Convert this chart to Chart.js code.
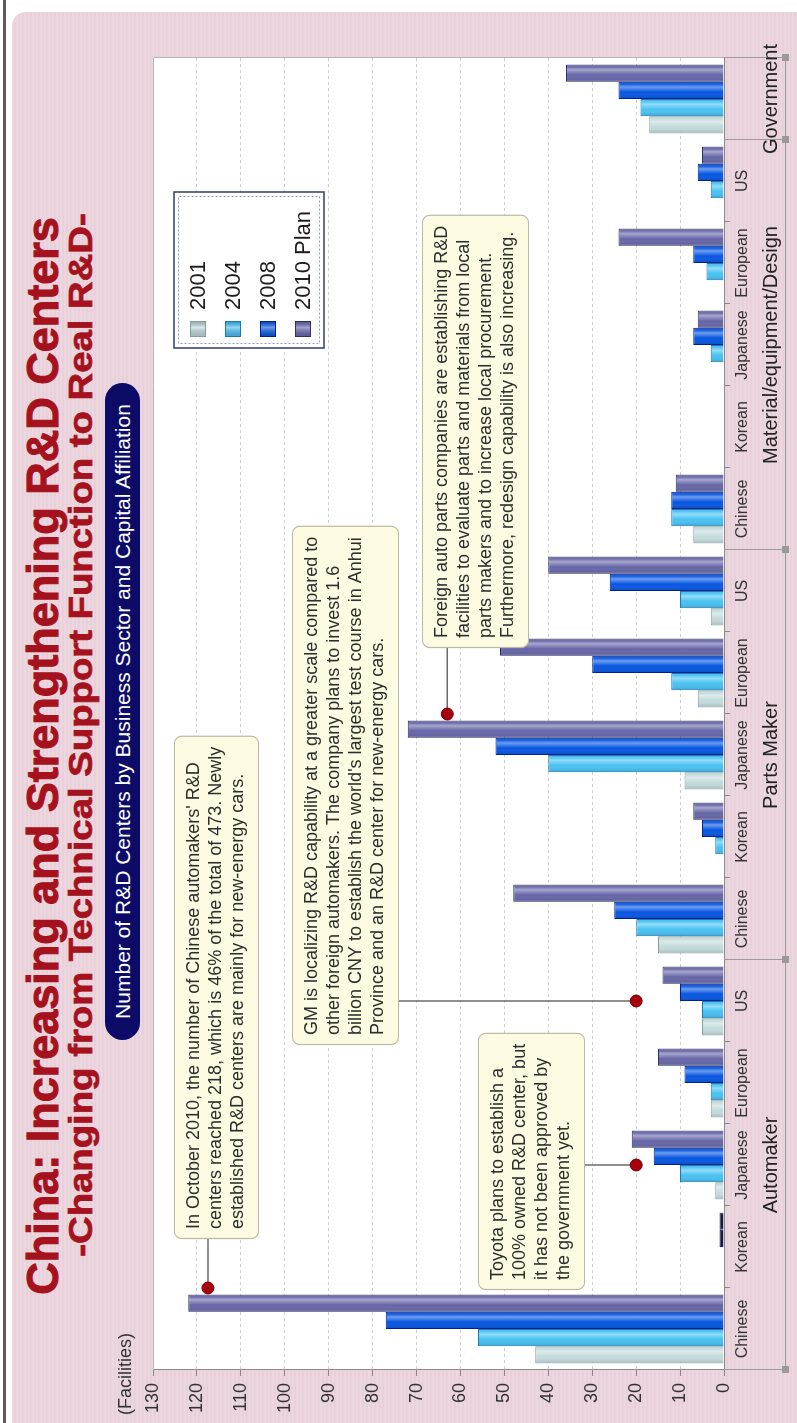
<!DOCTYPE html>
<html>
<head>
<meta charset="utf-8">
<title>China: Increasing and Strengthening R&amp;D Centers</title>
<script src="https://cdn.jsdelivr.net/npm/chart.js@4.4.1/dist/chart.umd.min.js"></script>
<style>
  html, body { margin:0; padding:0; width:797px; height:1423px; overflow:hidden; background:#fff; }
  /* the whole sheet is laid out landscape and turned a quarter turn */
  #stage { position:absolute; left:0; top:0; width:1423px; height:797px;
           transform-origin:0 0; transform:translate(0,1423px) rotate(-90deg);
           font-family:"Liberation Sans", Arial, Helvetica, sans-serif; }
  #rule { position:absolute; left:0; top:3px; width:1423px; height:3px; background:#5c5c5c; }
  #panel { position:absolute; left:0; top:12px; width:1411px; height:785px;
           border-top-right-radius:14px;
           background:repeating-linear-gradient(to bottom, #ecd7df 0px, #ecd7df 2px, #e8d1da 2px, #e8d1da 4px); }
  #chart { position:absolute; left:0; top:0; }
  .title { position:absolute; white-space:nowrap; color:#a5111d; font-weight:bold; line-height:1;
           -webkit-text-stroke:1.1px #a5111d; }
  #t1 { left:667px; top:20px; font-size:45px; transform:translateX(-50%); }
  #t2 { left:688px; top:64px; font-size:33px; transform:translateX(-50%) scaleX(1.16);
        -webkit-text-stroke:0.7px #a5111d; }
  #pill { position:absolute; left:383px; top:105px; width:657px; height:35px; border-radius:18px;
          background:#0c0c68; color:#fff; font-size:21px; line-height:35px; text-align:center; white-space:nowrap; }
</style>
</head>
<body>
<div id="stage">
  <div id="rule"></div>
  <div id="panel"></div>
  <div class="title" id="t1">China: Increasing and Strengthening R&amp;D Centers</div>
  <div class="title" id="t2">-Changing from Technical Support Function to Real R&amp;D-</div>
  <div id="pill">Number of R&amp;D Centers by Business Sector and Capital Affiliation</div>
  <canvas id="chart" width="1423" height="797"></canvas>
</div>
<script>
// ---- data ----
const categories = ['Chinese','Korean','Japanese','European','US',
                    'Chinese','Korean','Japanese','European','US',
                    'Chinese','Korean','Japanese','European','US',
                    ''];
const groupNames = ['Automaker','Parts Maker','Material/equipment/Design','Government'];
const groupSizes = [5, 5, 5, 1];
const seriesNames = ['2001', '2004', '2008', '2010 Plan'];
const v2001 = [43, 0,  2, 3,  5,  15, 0,  9,  6,  3,   7, 0, 0, 0, 0,  17];
const v2004 = [56, 0, 10, 3,  5,  20, 2, 40, 12, 10,  12, 0, 3, 4, 3,  19];
const v2008 = [77, 1, 16, 9, 10,  25, 5, 52, 30, 26,  12, 0, 7, 7, 6,  24];
const v2010 = [122, 1, 21, 15, 14, 48, 7, 72, 51, 40, 11, 0, 6, 24, 5, 36];
const yMin = 0, yMax = 130, yStep = 10;
const unitLabel = '(Facilities)';

// callout texts and the point each one refers to (category position, value)
const noteChinese = ["In October 2010, the number of Chinese automakers' R&D",
                     "centers reached 218, which is 46% of the total of 473. Newly",
                     "established R&D centers are mainly for new-energy cars."];
const noteToyota  = ["Toyota plans to establish a",
                     "100% owned R&D center, but",
                     "it has not been approved by",
                     "the government yet."];
const noteGM      = ["GM is localizing R&D capability at a greater scale compared to",
                     "other foreign automakers. The company plans to invest 1.6",
                     "billion CNY to establish the world's largest test course in Anhui",
                     "Province and an R&D center for new-energy cars."];
const noteParts   = ["Foreign auto parts companies are establishing R&D",
                     "facilities to evaluate parts and materials from local",
                     "parts makers and to increase local procurement.",
                     "Furthermore, redesign capability is also increasing."];
const noteTargets = [[0.5, 117.5], [2, 20], [4, 20], [7.5, 63]];

// ---- styling ----
const FONT = '"Liberation Sans", Arial, Helvetica, sans-serif';
const seriesLook = [
  { body:'#c4dbdb', line:'#809f9f' },
  { body:'#48c2f2', line:'#1b79b6' },
  { body:'#0656e2', line:'#00228e' },
  { body:'#6666a8', line:'#30306a' }
];
const notes = [
  { lines: noteChinese, left: 184, top: 174, leader: 'left' },
  { lines: noteToyota,  left: 133, top: 478, leader: 'bottom' },
  { lines: noteGM,      left: 378, top: 292, leader: 'bottom' },
  { lines: noteParts,   left: 775, top: 422, leader: 'left' }
];

function roundRect(c, x, y, w, h, r) {
  c.beginPath();
  c.moveTo(x + r, y);
  c.arcTo(x + w, y, x + w, y + h, r);
  c.arcTo(x + w, y + h, x, y + h, r);
  c.arcTo(x, y + h, x, y, r);
  c.arcTo(x, y, x + w, y, r);
  c.closePath();
}

const decor = {
  id: 'decor',
  beforeDraw(chart) {
    const a = chart.chartArea, c = chart.ctx;
    c.save();
    c.fillStyle = '#ffffff';
    c.fillRect(a.left, a.top, a.right - a.left, a.bottom - a.top);
    c.restore();
  },
  afterDatasetsDraw(chart) {
    // cylinder shading across every bar
    const c = chart.ctx;
    c.save();
    chart.data.datasets.forEach((ds, i) => {
      chart.getDatasetMeta(i).data.forEach((el, j) => {
        if (!ds.data[j]) return;
        const l = el.x - el.width / 2, r = el.x + el.width / 2;
        const t = Math.min(el.y, el.base), b = Math.max(el.y, el.base);
        if (b - t < 6) return;
        const g = c.createLinearGradient(l, 0, r, 0);
        g.addColorStop(0, 'rgba(0,0,40,0.18)');
        g.addColorStop(0.4, 'rgba(255,255,255,0)');
        g.addColorStop(0.7, 'rgba(255,255,255,0.42)');
        g.addColorStop(0.86, 'rgba(255,255,255,0.05)');
        g.addColorStop(1, 'rgba(0,0,40,0.22)');
        c.fillStyle = g;
        c.fillRect(l + 1, t + 1, r - l - 2, b - t - 1);
      });
    });
    c.restore();
  },
  afterDraw(chart) {
    const c = chart.ctx, a = chart.chartArea;
    const xs = chart.scales.x, ys = chart.scales.y;
    const half = (xs.getPixelForValue(1) - xs.getPixelForValue(0)) / 2;
    c.save();

    // plot frame: top and right edges
    c.strokeStyle = '#b5b5b5'; c.lineWidth = 1;
    c.beginPath();
    c.moveTo(a.left, a.top + 0.5); c.lineTo(a.right + 0.5, a.top + 0.5); c.lineTo(a.right + 0.5, a.bottom);
    c.stroke();

    // value-axis unit
    c.fillStyle = '#333'; c.font = '18px ' + FONT; c.textBaseline = 'alphabetic'; c.textAlign = 'left';
    c.fillText(unitLabel, 8, 131);

    // sector brackets under the category labels
    const frameY = 785.5;
    c.strokeStyle = '#9a9a9a'; c.lineWidth = 1;
    c.beginPath();
    c.moveTo(xs.getPixelForValue(0) - half, frameY);
    c.lineTo(xs.getPixelForValue(categories.length - 1) + half, frameY);
    c.stroke();
    let start = 0;
    const edges = [0];
    groupSizes.forEach(n => { start += n; edges.push(start); });
    edges.forEach(k => {
      const x = Math.round(xs.getPixelForValue(k) - half) + 0.5;
      c.beginPath(); c.moveTo(x, a.bottom); c.lineTo(x, frameY); c.stroke();
      c.fillStyle = '#9a9a9a';
      c.fillRect(x - 3.5, frameY - 3.5, 7, 7);
    });
    c.fillStyle = '#222'; c.font = '20px ' + FONT; c.textAlign = 'center'; c.textBaseline = 'middle';
    start = 0;
    groupNames.forEach((name, gi) => {
      const n = groupSizes[gi];
      const cx = (xs.getPixelForValue(start) + xs.getPixelForValue(start + n - 1)) / 2;
      c.fillText(name, cx, 771);
      start += n;
    });

    // callouts with leader lines to red markers
    c.font = '18px ' + FONT; c.textAlign = 'left'; c.textBaseline = 'alphabetic';
    notes.forEach((n, k) => {
      const lineH = 22, padX = 10, padY = 9;
      const w = Math.max(...n.lines.map(s => c.measureText(s).width)) + padX * 2;
      const h = n.lines.length * lineH + padY * 2;
      const px = xs.getPixelForValue(noteTargets[k][0]);
      const py = ys.getPixelForValue(noteTargets[k][1]);
      c.strokeStyle = '#6a6a6a'; c.lineWidth = 1.5;
      c.beginPath();
      if (n.leader === 'left') { c.moveTo(n.left, py); c.lineTo(px, py); }
      else { c.moveTo(px, n.top + h); c.lineTo(px, py); }
      c.stroke();
      c.fillStyle = '#a8000f'; c.strokeStyle = '#700008'; c.lineWidth = 1;
      c.beginPath(); c.arc(px, py, 6, 0, Math.PI * 2); c.fill(); c.stroke();
      roundRect(c, n.left + 0.5, n.top + 0.5, w, h, 7);
      c.fillStyle = '#fdfbe1'; c.fill();
      c.strokeStyle = '#b9b9a6'; c.lineWidth = 1.2; c.stroke();
      c.fillStyle = '#2e2e2e';
      n.lines.forEach((s, li) => c.fillText(s, n.left + padX, n.top + padY + 16 + li * lineH));
    });

    // legend
    const lx = 1075, ly = 174, lw = 156, lh = 150;
    c.fillStyle = '#ffffff'; c.fillRect(lx, ly, lw, lh);
    c.strokeStyle = '#2e3d6c'; c.lineWidth = 1.5; c.strokeRect(lx, ly, lw, lh);
    c.setLineDash([2, 2]); c.strokeStyle = '#8d9bc0'; c.lineWidth = 1;
    c.strokeRect(lx + 4.5, ly + 4.5, lw - 9, lh - 9);
    c.setLineDash([]);
    c.font = '22px ' + FONT; c.textBaseline = 'middle';
    chart.data.datasets.forEach((ds, i) => {
      const cy = 198 + i * 35;
      const lk = seriesLook[i];
      c.fillStyle = lk.body; c.fillRect(1086, cy - 8, 16, 16);
      const g = c.createLinearGradient(1086, 0, 1102, 0);
      g.addColorStop(0, 'rgba(0,0,40,0.15)'); g.addColorStop(0.6, 'rgba(255,255,255,0.4)'); g.addColorStop(1, 'rgba(0,0,40,0.2)');
      c.fillStyle = g; c.fillRect(1086, cy - 8, 16, 16);
      c.strokeStyle = lk.line; c.lineWidth = 1; c.strokeRect(1086.5, cy - 7.5, 15, 15);
      c.fillStyle = '#1c1c1c'; c.fillText(ds.label, 1113, cy + 1);
    });
    c.restore();
  }
};

const seriesValues = [v2001, v2004, v2008, v2010];
new Chart(document.getElementById('chart'), {
  type: 'bar',
  data: {
    labels: categories,
    datasets: seriesValues.map((vals, i) => ({
      label: seriesNames[i],
      data: vals,
      // stubs only a few pixels long show up as solid dark marks
      backgroundColor: ctx => (ctx.raw && ctx.raw <= 1) ? '#1a1a3c' : seriesLook[i].body,
      borderColor: seriesLook[i].line,
      borderWidth: 1,
      categoryPercentage: 0.84,
      barPercentage: 1
    }))
  },
  options: {
    responsive: false,
    animation: false,
    events: [],
    layout: { padding: { left: 0, right: 58, top: 153, bottom: 0 } },
    plugins: { legend: { display: false }, tooltip: { enabled: false } },
    scales: {
      x: {
        grid: { display: true, drawOnChartArea: false, offset: true, tickLength: 6, color: '#8a8a8a', tickColor: '#8a8a8a' },
        border: { display: true, color: '#8a8a8a', width: 1 },
        ticks: { font: { family: FONT, size: 16 }, color: '#333', padding: 3, maxRotation: 0, autoSkip: false },
        afterFit(s) { s.height = 73; }
      },
      y: {
        min: yMin, max: yMax,
        ticks: { stepSize: yStep, font: { family: FONT, size: 18 }, color: '#333', padding: 7 },
        grid: { color: '#cdcdcd', tickColor: '#8a8a8a', tickLength: 6, lineWidth: 1 },
        border: { display: true, color: '#8a8a8a', width: 1, dash: [3, 3] },
        afterFit(s) { s.width = 53; }
      }
    }
  },
  plugins: [decor]
});
</script>
</body>
</html>
